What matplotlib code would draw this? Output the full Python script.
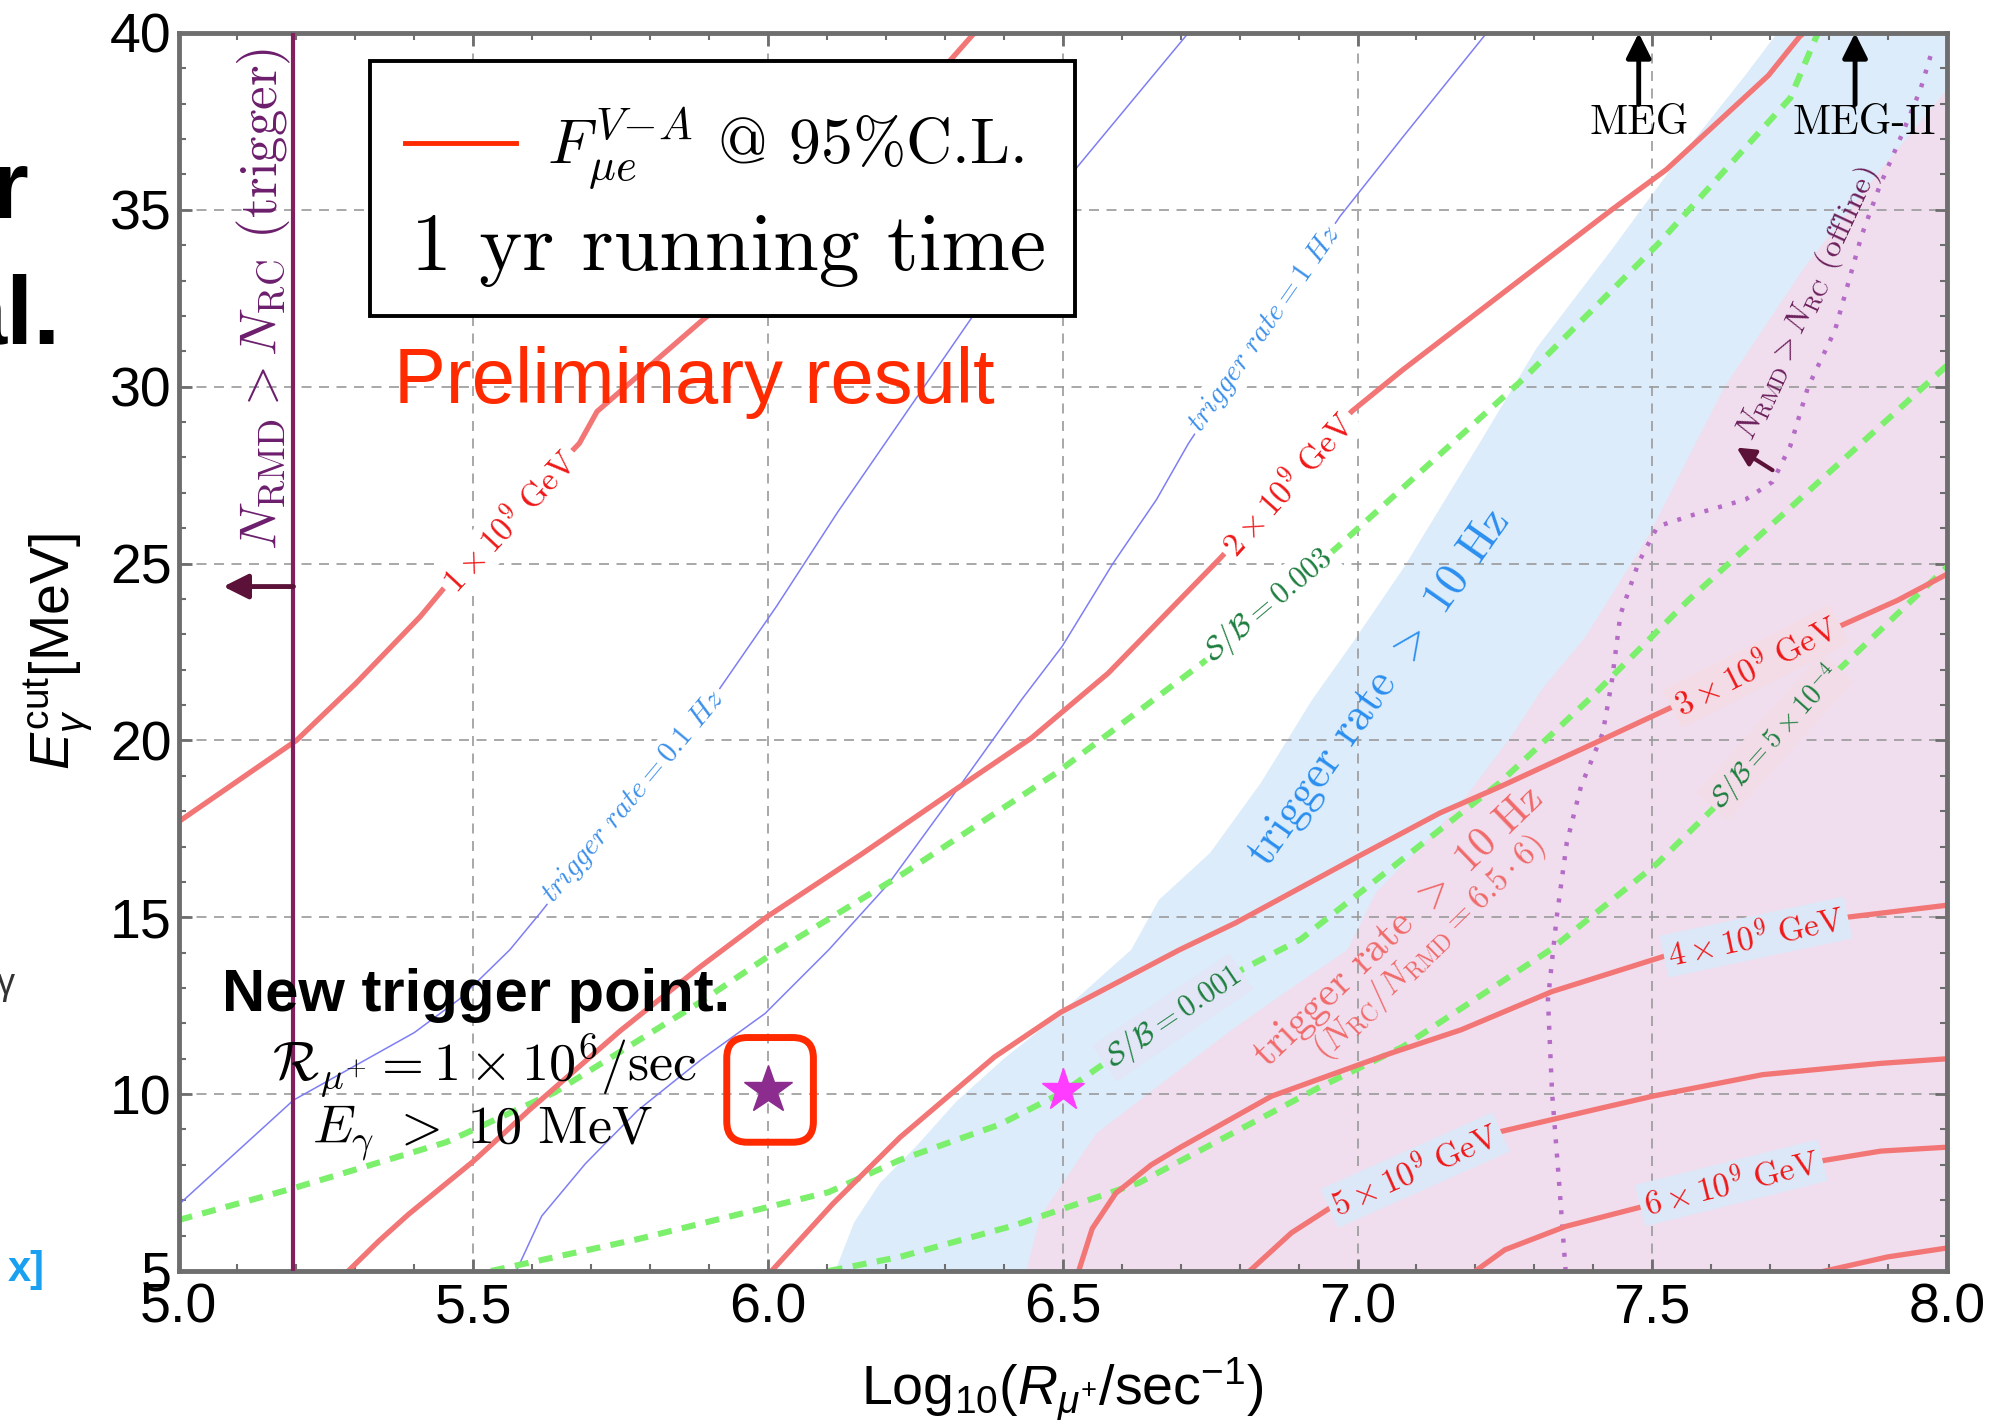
import numpy as np
import matplotlib
matplotlib.use('Agg')
import matplotlib.pyplot as plt
from matplotlib.patches import Rectangle, FancyBboxPatch

plt.rcParams.update({
    'font.family': 'Liberation Sans',
    'mathtext.fontset': 'custom',
    'mathtext.rm': 'Liberation Sans',
    'mathtext.it': 'Liberation Sans:italic',
    'mathtext.bf': 'Liberation Sans:bold',
})
CM = ['cmr10', 'DejaVu Serif']

# ---- contour data: x = log10(R), y = E_gamma cut [MeV]
red_1e9 = [(5.0, 17.7), (5.1, 18.85), (5.2, 20.0), (5.3, 21.6), (5.41, 23.5), (5.45, 24.3),
           (5.56, 26.3), (5.68, 28.4), (5.71, 29.3), (5.89, 31.9), (6.0, 33.3), (6.17, 36.6), (6.35, 40.0)]
red_2e9 = [(5.288, 5.0), (5.34, 5.85), (5.39, 6.6), (5.445, 7.35), (5.5, 8.1), (5.595, 9.55),
           (5.75, 11.8), (5.885, 13.6), (5.997, 15.0), (6.16, 16.8), (6.317, 18.6), (6.447, 20.07),
           (6.577, 21.9), (6.767, 25.15), (6.88, 27.2), (6.99, 29.3), (7.077, 30.48), (7.282, 33.1),
           (7.431, 35.0), (7.524, 36.14), (7.697, 38.8), (7.75, 39.9), (7.8, 40.6)]
red_3e9 = [(6.006, 5.0), (6.11, 6.9), (6.224, 8.78), (6.384, 11.05), (6.497, 12.32), (6.698, 14.08),
           (6.793, 14.84), (7.0, 16.71), (7.14, 17.95), (7.243, 18.7), (7.416, 20.03), (7.537, 20.97),
           (7.676, 22.1), (7.81, 23.17), (7.916, 23.96), (8.0, 24.7)]
red_4e9 = [(6.527, 5.0), (6.55, 6.2), (6.59, 7.2), (6.65, 8.0), (6.70, 8.5), (6.854, 9.94),
           (7.057, 11.16), (7.176, 11.82), (7.33, 12.9), (7.53, 13.95), (7.68, 14.5), (7.82, 14.98), (8.0, 15.34)]
red_5e9 = [(6.817, 5.0), (6.888, 6.08), (6.955, 6.8), (7.1, 7.9), (7.24, 8.93), (7.412, 9.6),
           (7.503, 9.95), (7.687, 10.55), (7.888, 10.87), (8.0, 11.0)]
red_6e9 = [(7.2, 5.0), (7.25, 5.6), (7.353, 6.26), (7.479, 6.8), (7.63, 7.5), (7.793, 8.13),
           (7.888, 8.39), (8.0, 8.5)]
red_7e9 = [(7.793, 5.0), (7.9, 5.4), (8.0, 5.65)]

blue_01hz = [(5.0, 6.87), (5.195, 9.83), (5.40, 11.74), (5.476, 12.68), (5.562, 14.08), (5.614, 15.13),
             (5.77, 18.4), (5.917, 21.44), (6.014, 23.78), (6.118, 26.45), (6.343, 31.89),
             (6.525, 36.22), (6.713, 40.0)]
blue_1hz = [(5.573, 5.0), (5.616, 6.55), (5.69, 8.03), (5.779, 9.54), (5.887, 10.98), (5.995, 12.28),
            (6.103, 14.08), (6.205, 15.96), (6.317, 18.52), (6.43, 21.15), (6.499, 22.66), (6.585, 25.0),
            (6.659, 26.81), (6.713, 28.39), (6.84, 31.6), (6.97, 34.81), (7.076, 37.04), (7.219, 40.0)]

green_003 = [(5.0, 6.44), (5.195, 7.34), (5.454, 8.64), (5.638, 10.05), (5.885, 12.6), (6.017, 14.08),
             (6.231, 16.25), (6.49, 19.09), (6.737, 22.19), (6.85, 23.8), (6.964, 25.44), (7.282, 30.23),
             (7.509, 34.02), (7.734, 38.16), (7.779, 39.93), (7.8, 40.5)]
green_001 = [(5.53, 5.0), (5.779, 5.9), (6.103, 7.23), (6.224, 8.14), (6.393, 9.14), (6.5, 10.05),
             (6.568, 10.84), (6.69, 12.2), (6.806, 13.54), (6.903, 14.37), (7.241, 18.8), (7.394, 21.18),
             (7.561, 23.96), (8.0, 30.6)]
green_5e4 = [(6.103, 5.0), (6.224, 5.4), (6.42, 6.3), (6.629, 7.49), (6.936, 10.2), (7.077, 11.34),
             (7.327, 14.08), (7.509, 16.53), (7.613, 18.23), (7.71, 20.0), (7.81, 21.9), (7.94, 23.96),
             (8.0, 24.9)]

offline_rmd = [(7.353, 5.0), (7.342, 7.49), (7.33, 10.05), (7.323, 12.68), (7.338, 15.02), (7.355, 17.11),
               (7.379, 18.7), (7.416, 20.21), (7.431, 21.62), (7.446, 23.56), (7.477, 25.04), (7.509, 26.05),
               (7.583, 26.45), (7.658, 26.81), (7.704, 27.31), (7.734, 28.32), (7.764, 29.98), (7.81, 31.6),
               (7.855, 34.27), (7.885, 35.64), (7.924, 37.15), (7.955, 38.41), (7.976, 39.57)]

# shaded regions (left boundaries, region extends to the right edge)
blue_edge = [(6.114, 5.0), (6.146, 6.37), (6.19, 7.49), (6.25, 8.5), (6.32, 9.8), (6.40, 11.0),
             (6.49, 12.2), (6.616, 14.08), (6.663, 15.49), (6.75, 16.82), (6.836, 18.8), (6.923, 21.15),
             (6.992, 22.77), (7.079, 24.9), (7.204, 28.32), (7.304, 31.1), (7.431, 33.87), (7.531, 36.14),
             (7.658, 38.81), (7.712, 40.0)]
pink_edge = [(6.438, 5.0), (6.462, 6.55), (6.557, 8.89), (6.653, 10.12), (6.795, 11.92), (6.901, 13.15),
             (6.983, 14.08), (7.031, 15.7), (7.131, 17.4), (7.189, 18.52), (7.265, 20.21), (7.314, 21.47),
             (7.386, 22.91), (7.494, 25.8), (7.622, 29.98), (7.758, 33.37), (7.888, 36.14), (8.0, 38.41)]

trigger_cut_x = 5.195
new_point = (6.0, 10.12)
meg_point = (6.5, 10.12)
meg_limits = {'MEG': 7.477, 'MEG-II': 7.844}

x_ticks = [5.0, 5.5, 6.0, 6.5, 7.0, 7.5, 8.0]
y_ticks = [5, 10, 15, 20, 25, 30, 35, 40]

RED = '#F37676'
BLUE = '#7E7EF4'
GREEN = '#7CF06C'
PURPLE = '#B46CC6'

fig = plt.figure(figsize=(19.99, 14.22), dpi=100)
ax = fig.add_axes([0.0893, 0.1062, 0.8847, 0.8706])
ax.set_xlim(5, 8)
ax.set_ylim(5, 40)

# regions
bx, by = zip(*(blue_edge + [(8.0, 40.0), (8.0, 5.0)]))
ax.fill(bx, by, color='#DCECFA', lw=0, zorder=0.2)
px, py = zip(*(pink_edge + [(8.0, 5.0)]))
ax.fill(px, py, color='#F0DEEE', lw=0, zorder=0.3)

ax.set_axisbelow(True)
ax.grid(True, color='#9a9a9a', lw=1.2, ls=(0, (6, 4.5)))

def line(pts, **kw):
    x, y = zip(*pts)
    ax.plot(x, y, **kw)

for c in [red_1e9, red_2e9, red_3e9, red_4e9, red_5e9, red_6e9, red_7e9]:
    line(c, color=RED, lw=3.8, zorder=2.2)
for c in [blue_01hz, blue_1hz]:
    line(c, color=BLUE, lw=1.1, zorder=2.0)
for c in [green_003, green_001, green_5e4]:
    line(c, color=GREEN, lw=4.4, ls=(0, (2.3, 1.7)), zorder=2.1)
line(offline_rmd, color=PURPLE, lw=3.2, ls=(0, (0.9, 2.3)), zorder=2.1)

ax.axvline(trigger_cut_x, color='#82205E', lw=3.0, zorder=3)

# contour labels
def clabel(x, y, s, rot, color, fs, bg='white'):
    ax.text(x, y, s, rotation=rot, rotation_mode='anchor', ha='center', va='center',
            color=color, fontsize=fs, family=CM, math_fontfamily='cm', zorder=4,
            bbox=dict(boxstyle='square,pad=0.12', fc=bg, ec='none'))

clabel(5.562, 26.2, r'$1\times10^{9}\ \mathrm{GeV}$', 47, '#F01818', 24)
clabel(6.882, 27.24, r'$2\times10^{9}\ \mathrm{GeV}$', 48, '#F01818', 24)
clabel(7.676, 22.09, r'$3\times10^{9}\ \mathrm{GeV}$', 27, '#F01818', 24, bg='#F4DCE6')
clabel(7.676, 14.44, r'$4\times10^{9}\ \mathrm{GeV}$', 12, '#F01818', 24, bg='#DCE8F8')
clabel(7.098, 7.85, r'$5\times10^{9}\ \mathrm{GeV}$', 24, '#F01818', 24, bg='#DCE8F8')
clabel(7.634, 7.49, r'$6\times10^{9}\ \mathrm{GeV}$', 14, '#F01818', 24, bg='#DCE8F8')
clabel(5.772, 18.41, r'$trigger\ rate = 0.1\ Hz$', 50, '#3A8EEA', 21)
clabel(6.843, 31.64, r'$trigger\ rate = 1\ Hz$', 55, '#3A8EEA', 21)
clabel(6.849, 23.82, r'$\mathcal{S}/\mathcal{B} = 0.003$', 40, '#1E7F3F', 22)
clabel(6.687, 12.17, r'$\mathcal{S}/\mathcal{B} = 0.001$', 34, '#1E7F3F', 22, bg='#E2E6F6')
clabel(7.708, 20.1, r'$\mathcal{S}/\mathcal{B} = 5\times10^{-4}$', 48, '#1E7F3F', 20, bg='#F2DCE8')

ax.text(7.037, 21.47, r'trigger rate $>$ 10 Hz', rotation=55, rotation_mode='anchor', ha='center',
        va='center', color='#2B8FF0', fontsize=33, family=CM, math_fontfamily='cm', zorder=4)
ax.text(7.07, 14.73, r'trigger rate $>$ 10 Hz', rotation=44, rotation_mode='anchor', ha='center',
        va='center', color='#F06A6A', fontsize=30, family=CM, math_fontfamily='cm', zorder=4)
ax.text(7.122, 14.15, r'$(N_{\mathrm{RC}}/N_{\mathrm{RMD}} = 6.5\cdot6)$', rotation=44,
        rotation_mode='anchor', ha='center', va='center', color='#F06A6A', fontsize=24,
        family=CM, math_fontfamily='cm', zorder=4)
ax.text(7.764, 32.36, r'$N_{\mathrm{RMD}} > N_{\mathrm{RC}}$ (offline)', rotation=65,
        rotation_mode='anchor', ha='center', va='center', color='#6B1F5B', fontsize=23,
        family=CM, math_fontfamily='cm', zorder=4)
ax.text(5.145, 32.47, r'$N_{\mathrm{RMD}} > N_{\mathrm{RC}}$ (trigger)', rotation=90,
        rotation_mode='anchor', ha='center', va='center', color='#6C1E6C', fontsize=38,
        family=CM, math_fontfamily='cm', zorder=4)

# arrows
arrow_kw = dict(shrinkA=0, shrinkB=0)
ax.annotate('', xy=(5.076, 24.35), xytext=(trigger_cut_x, 24.35), annotation_clip=False, zorder=5,
            arrowprops=dict(arrowstyle='-|>,head_length=0.6,head_width=0.3', lw=3.5,
                            color='#5C1238', mutation_scale=25, **arrow_kw))
ax.annotate('', xy=(7.643, 28.28), xytext=(7.704, 27.64), annotation_clip=False, zorder=5,
            arrowprops=dict(arrowstyle='-|>,head_length=0.6,head_width=0.3', lw=3.0,
                            color='#5C1238', mutation_scale=18, **arrow_kw))
for name, xv in meg_limits.items():
    ax.annotate('', xy=(xv, 40.0), xytext=(xv, 37.98), annotation_clip=False, zorder=5,
                arrowprops=dict(arrowstyle='-|>,head_length=0.6,head_width=0.3', lw=3.5,
                                color='black', mutation_scale=25, **arrow_kw))
ax.text(meg_limits['MEG'], 37.44, 'MEG', ha='center', va='center', fontsize=30, family=CM, zorder=5)
ax.text(7.86, 37.44, 'MEG-II', ha='center', va='center', fontsize=30, family=CM, zorder=5)

# legend box
ax.add_patch(Rectangle((5.324, 32.0), 6.52 - 5.324, 39.2 - 32.0, fc='white', ec='black',
                       lw=2.8, zorder=6))
ax.plot([5.385, 5.573], [36.9, 36.9], color='#FF2A00', lw=3.5, zorder=7)
ax.text(5.625, 36.32, r'$F^{V\!-\!A}_{\mu e}$ @ 95%C.L.', fontsize=46, family=CM,
        math_fontfamily='cm', va='baseline', zorder=7)
ax.text(5.933, 33.3, '1 yr running time', fontsize=59, family=CM, ha='center',
        va='baseline', zorder=7)

ax.text(5.875, 29.55, 'Preliminary result', fontsize=56, color='#FF2A00', ha='center',
        va='baseline', zorder=7)

# trigger point annotation
ax.text(5.504, 12.35, 'New trigger point.', fontsize=43, fontweight='bold', ha='center',
        va='baseline', zorder=7)
ax.text(5.519, 10.37, r'$\mathcal{R}_{\mu^{+}} = 1\times10^{6}/\mathrm{sec}$', fontsize=39,
        family=CM, math_fontfamily='cm', ha='center', va='baseline', zorder=7)
ax.text(5.516, 8.6, r'$E_{\gamma}\ >\ 10\ \mathrm{MeV}$', fontsize=39, family=CM,
        math_fontfamily='cm', ha='center', va='baseline', zorder=7)

ax.plot(*new_point, marker='*', ms=36, color='#8B2C8E', zorder=8)
ax.plot(*meg_point, marker='*', ms=32, color='#FF3CFF', zorder=8)
ax.add_patch(FancyBboxPatch((5.93, 8.64), 0.147, 2.96,
                            boxstyle='round,pad=0,rounding_size=0.035', mutation_aspect=16.67,
                            ec='#FF2A00', fc='none', lw=5, zorder=8))

# axes styling
ax.set_xticks(x_ticks)
ax.set_xticklabels([f'{v:.1f}' for v in x_ticks])
ax.set_yticks(y_ticks)
ax.set_yticklabels([str(v) for v in y_ticks])
ax.set_xticks(np.arange(5.0, 8.0001, 0.1), minor=True)
ax.set_yticks(np.arange(5, 41, 1), minor=True)
ax.tick_params(which='both', direction='in', top=True, right=True, color='#6E6E6E')
ax.tick_params(which='major', length=9, width=2, labelsize=40)
ax.tick_params(which='minor', length=5, width=1.5)
ax.tick_params(axis='y', pad=5)
ax.tick_params(axis='x', pad=8)
for s in ax.spines.values():
    s.set_color('#6E6E6E')
    s.set_linewidth(3.5)

ax.set_xlabel(r'Log$_{10}$($R_{\mu^{+}}$/sec$^{-1}$)', fontsize=40)
ax.xaxis.set_label_coords(0.5, -0.068)
ax.set_ylabel(r'$E_{\gamma}^{\mathrm{cut}}$[MeV]', fontsize=40)
ax.yaxis.set_label_coords(-0.047, 0.5)

# fragments of the neighbouring slide text at the left edge
fig.text(0.014, 0.847, 'r', fontsize=70, fontweight='bold', ha='right', va='baseline')
fig.text(0.030, 0.758, 'al.', fontsize=70, fontweight='bold', ha='right', va='baseline')
fig.text(0.0075, 0.301, 'γ', fontsize=26, ha='right', va='baseline', color='#333333')
fig.text(0.0225, 0.099, 'x]', fontsize=30, fontweight='bold', ha='right', va='baseline',
         color='#1AA0F0')

fig.savefig('out.png', dpi=100)
